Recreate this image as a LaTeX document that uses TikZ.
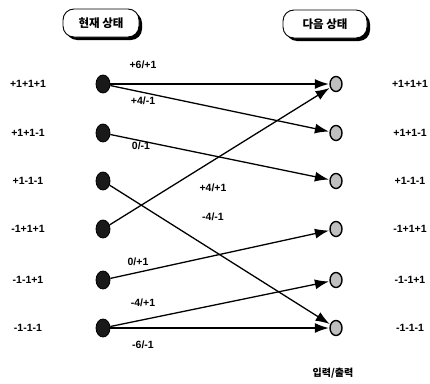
\documentclass[tikz,border=0pt]{standalone}
\usepackage{fontspec}
\setmainfont{Liberation Sans}
\newfontfamily\krfont{Noto Sans CJK KR}
\usetikzlibrary{arrows.meta,shapes.geometric,shadows}

\begin{document}
\begin{tikzpicture}[x=1pt,y=-1pt,
  font=\fontsize{10.5}{12}\selectfont\bfseries,
  curstate/.style={ellipse,draw,line width=0.8pt,fill=black!90,
    minimum width=14pt,minimum height=18pt,inner sep=0pt},
  nextstate/.style={ellipse,draw,line width=1.4pt,fill=black!25,
    minimum width=12pt,minimum height=15pt,inner sep=0pt},
  trans/.style={line width=1.3pt,-{Latex[length=14pt,width=10pt]},shorten >=0.5pt},
  hdrbox/.style={draw,line width=0.9pt,fill=white,rounded corners=11pt,
    minimum width=76pt,minimum height=28pt,
    font=\krfont\bfseries\fontsize{11.5}{12}\selectfont,
    general shadow={shadow xshift=3pt,shadow yshift=-3pt,fill=black}},
  lbl/.style={inner sep=0pt}
]
\useasboundingbox (0,0) rectangle (430,383);

% column headers
\node[hdrbox] (hcur) at (101,23) {현재 상태};
\node[hdrbox,minimum width=84pt] (hnext) at (325,24) {다음 상태};

% states
\foreach \i/\y/\s in {1/84/+1+1+1, 2/133/+1+1-1, 3/181/+1-1-1, 4/229/-1+1+1, 5/280/-1-1+1, 6/328/-1-1-1}{
  \node[curstate] (L\i) at (103,\y) {};
  \node[nextstate] (R\i) at (336,\y) {};
  \node[lbl] (tl\i) at (28,\y) {\s};
  \node[lbl] (tr\i) at (410,\y) {\s};
}

% transitions
\draw[trans] (L1) -- (R1);
\draw[trans] (L1) -- (R2);
\draw[trans] (L2) -- (R3);
\draw[trans] (L3) -- (R6);
\draw[trans] (L4) -- (R1);
\draw[trans] (L5) -- (R4);
\draw[trans] (L6) -- (R5);
\draw[trans] (L6) -- (R6);

% input/output labels
\node[lbl] (e1) at (143,65) {+6/+1};
\node[lbl] (e2) at (143,101) {+4/-1};
\node[lbl] (e3) at (141,146) {0/-1};
\node[lbl] (e4) at (213,188) {+4/+1};
\node[lbl] (e5) at (213,217) {-4/-1};
\node[lbl] (e6) at (138,262) {0/+1};
\node[lbl] (e7) at (143,303) {-4/+1};
\node[lbl] (e8) at (143,345) {-6/-1};

\node[lbl,font=\krfont\bfseries\fontsize{10}{11}\selectfont] (io) at (333,373) {입력/출력};
\end{tikzpicture}
\end{document}
